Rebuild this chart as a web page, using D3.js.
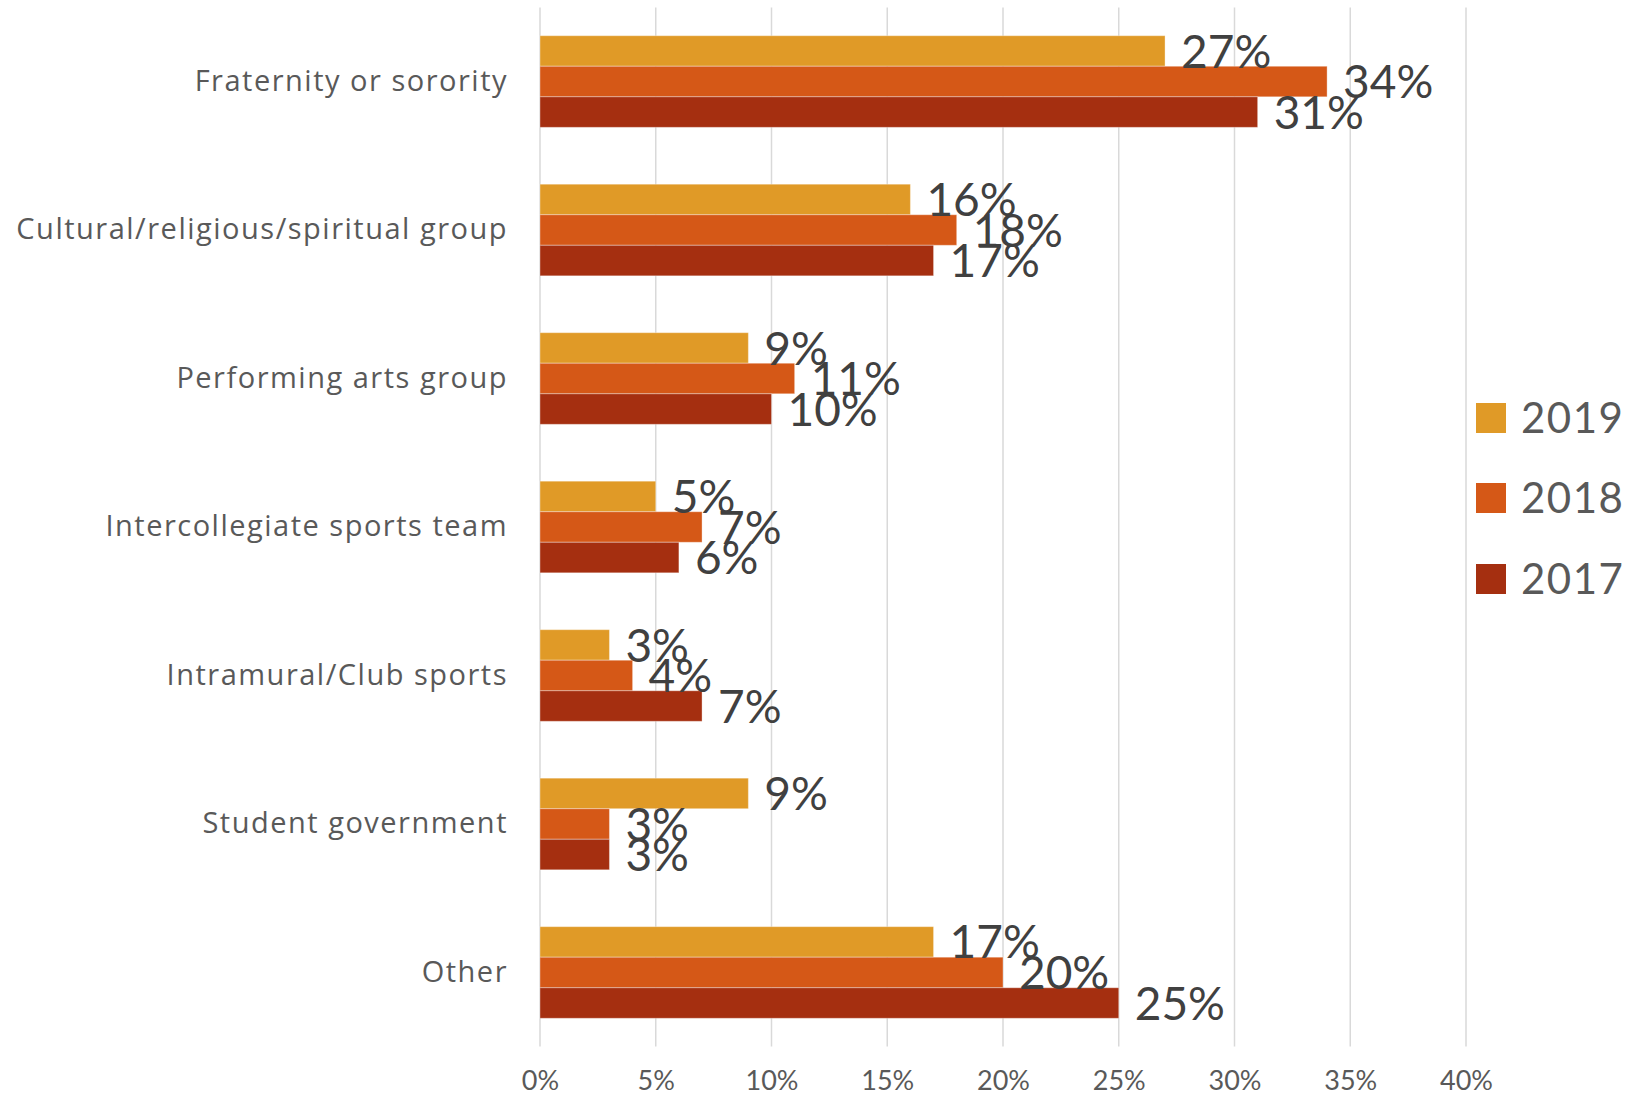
<!DOCTYPE html>
<html>
<head>
<meta charset="utf-8">
<script src="https://cdn.jsdelivr.net/npm/d3@7"></script>
<style>
  html, body { margin: 0; padding: 0; background: #fff; }
  svg { display: block; }
</style>
</head>
<body>
<svg id="chart" width="1650" height="1097"></svg>
<script>
// Involvement categories, top to bottom
const categories = [
  "Fraternity or sorority",
  "Cultural/religious/spiritual group",
  "Performing arts group",
  "Intercollegiate sports team",
  "Intramural/Club sports",
  "Student government",
  "Other"
];
// Survey years, drawn top to bottom within each group
const years = ["2019", "2018", "2017"];
// Percent of respondents per year
const values2019 = [27, 16, 9, 5, 3, 9, 17];
const values2018 = [34, 18, 11, 7, 4, 3, 20];
const values2017 = [31, 17, 10, 6, 7, 3, 25];
const tickValues = [0, 5, 10, 15, 20, 25, 30, 35, 40];

const seriesByYear = { "2019": values2019, "2018": values2018, "2017": values2017 };
const colors = { "2019": "#e09a27", "2018": "#d55817", "2017": "#a52f10" };

const svg = d3.select("#chart");
const FONT = "Lato, 'Open Sans', sans-serif";
const LABEL_FONT = "'Open Sans', Lato, sans-serif";

const plot = { left: 540, right: 1466, top: 7.5, bottom: 1046.5 };

const x = d3.scaleLinear().domain([0, 40]).range([plot.left, plot.right]);
const y = d3.scaleBand().domain(categories).range([plot.top, plot.bottom])
  .paddingInner(0.383).paddingOuter(0.19);
const yInner = d3.scaleBand().domain(years).range([0, y.bandwidth()]);

// Vertical gridlines
svg.append("g")
  .selectAll("line")
  .data(tickValues)
  .join("line")
  .attr("x1", d => x(d)).attr("x2", d => x(d))
  .attr("y1", plot.top).attr("y2", plot.bottom)
  .attr("stroke", "#d9d9d9")
  .attr("stroke-width", 1.5);

// X axis tick labels
const xAxis = d3.axisBottom(x).tickValues(tickValues).tickSize(0).tickPadding(0)
  .tickFormat(d => d + "%");
const gx = svg.append("g").attr("transform", `translate(0, ${plot.bottom + 34})`).call(xAxis);
gx.select(".domain").remove();
gx.selectAll("text")
  .attr("font-family", FONT)
  .attr("font-size", 27)
  .attr("fill", "#595959")
  .attr("dy", "0.35em")
  .attr("y", 0);

// Category labels
const yAxis = d3.axisLeft(y).tickSize(0).tickPadding(0);
const gy = svg.append("g").attr("transform", `translate(${plot.left - 32}, 0)`).call(yAxis);
gy.select(".domain").remove();
gy.selectAll("text")
  .attr("font-family", LABEL_FONT)
  .attr("font-size", 29)
  .attr("letter-spacing", 1.5)
  .attr("fill", "#595959");

// Bars
const rows = [];
categories.forEach((c, i) => {
  years.forEach(yr => rows.push({ category: c, year: yr, value: seriesByYear[yr][i] }));
});

const groups = svg.append("g");
groups.selectAll("rect")
  .data(rows)
  .join("rect")
  .attr("x", x(0))
  .attr("y", d => y(d.category) + yInner(d.year))
  .attr("width", d => x(d.value) - x(0))
  .attr("height", yInner.bandwidth())
  .attr("fill", d => colors[d.year])
  .attr("stroke", "#ffffff")
  .attr("stroke-opacity", 0.35)
  .attr("stroke-width", 1);

// Value labels
groups.selectAll("text")
  .data(rows)
  .join("text")
  .attr("x", d => x(d.value) + 16)
  .attr("y", d => y(d.category) + yInner(d.year) + yInner.bandwidth() / 2)
  .attr("dy", "0.36em")
  .attr("font-family", FONT)
  .attr("font-size", 46)
  .attr("fill", "#404040")
  .text(d => d.value + "%");

// Legend
const legendY = { "2019": 418, "2018": 498, "2017": 579 };
const legend = svg.append("g");
years.forEach(yr => {
  legend.append("rect")
    .attr("x", 1476).attr("y", legendY[yr] - 15)
    .attr("width", 30).attr("height", 30)
    .attr("fill", colors[yr]);
  legend.append("text")
    .attr("x", 1521).attr("y", legendY[yr])
    .attr("dy", "0.36em")
    .attr("font-family", FONT)
    .attr("font-size", 42)
    .attr("letter-spacing", 1.5)
    .attr("fill", "#595959")
    .text(yr);
});
</script>
</body>
</html>
